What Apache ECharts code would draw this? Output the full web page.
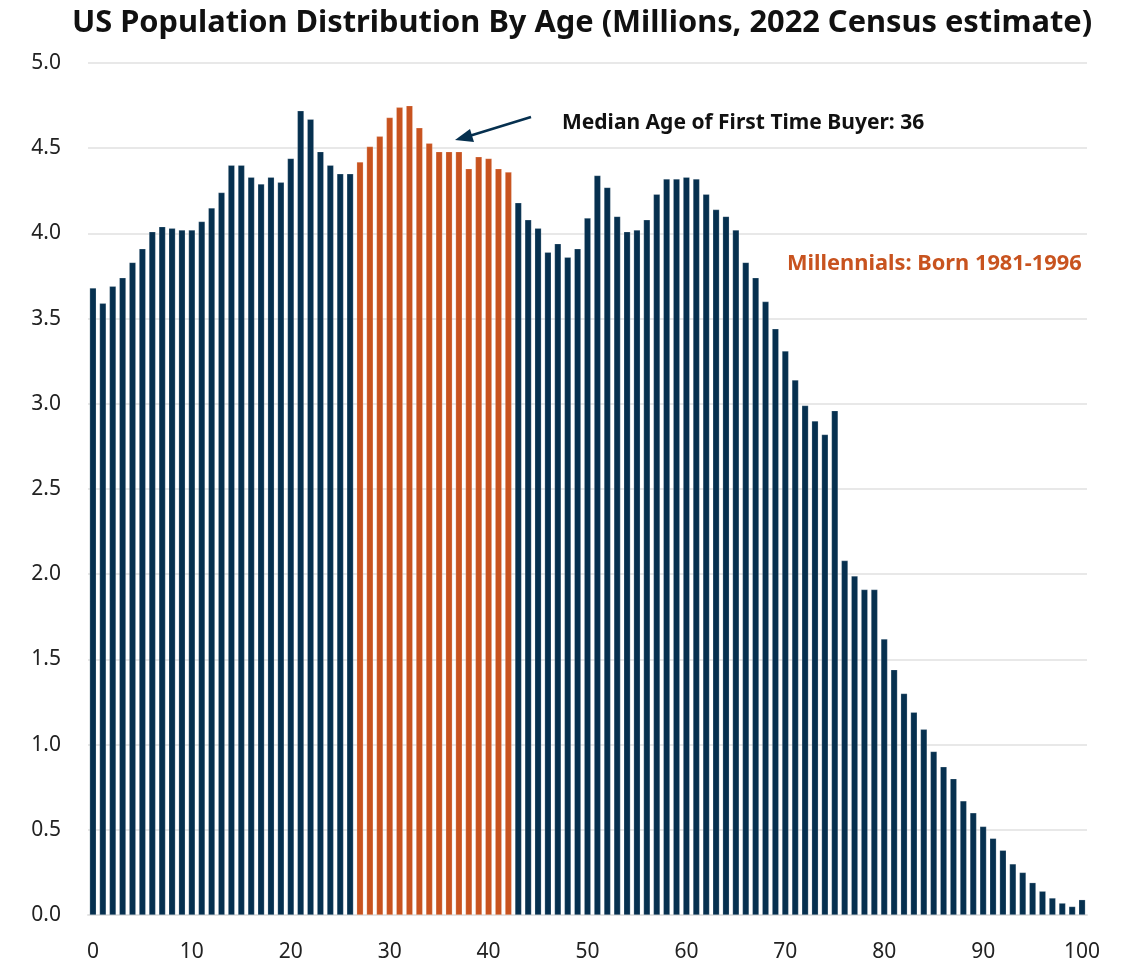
<!DOCTYPE html>
<html>
<head>
<meta charset="utf-8">
<script src="https://cdn.jsdelivr.net/npm/echarts@6/dist/echarts.min.js"></script>
<style>
  html, body { margin: 0; padding: 0; background: #ffffff; }
  #chart { width: 1122px; height: 963px; }
</style>
</head>
<body>
<div id="chart"></div>
<script>
// Single-year ages 0..100
const ages = Array.from({ length: 101 }, (_, i) => String(i));

// US resident population by single year of age, millions (2022 estimate)
const population = [
  3.68, 3.59, 3.69, 3.74, 3.83, 3.91, 4.01, 4.04, 4.03, 4.02,
  4.02, 4.07, 4.15, 4.24, 4.40, 4.40, 4.33, 4.29, 4.33, 4.30,
  4.44, 4.72, 4.67, 4.48, 4.40, 4.35, 4.35, 4.42, 4.51, 4.57,
  4.68, 4.74, 4.75, 4.62, 4.53, 4.48, 4.48, 4.48, 4.38, 4.45,
  4.44, 4.38, 4.36, 4.18, 4.08, 4.03, 3.89, 3.94, 3.86, 3.91,
  4.09, 4.34, 4.27, 4.10, 4.01, 4.02, 4.08, 4.23, 4.32, 4.32,
  4.33, 4.32, 4.23, 4.14, 4.10, 4.02, 3.83, 3.74, 3.60, 3.44,
  3.31, 3.14, 2.99, 2.90, 2.82, 2.96, 2.08, 1.99, 1.91, 1.91,
  1.62, 1.44, 1.30, 1.19, 1.09, 0.96, 0.87, 0.80, 0.67, 0.60,
  0.52, 0.45, 0.38, 0.30, 0.25, 0.19, 0.14, 0.10, 0.07, 0.05,
  0.09
];

// Ages highlighted as the millennial cohort
const millennialAges = [27, 42];

const titleText = 'US Population Distribution By Age (Millions, 2022 Census estimate)';
const buyerNote = 'Median Age of First Time Buyer: 36';
const cohortNote = 'Millennials: Born 1981-1996';

const NAVY = '#06304f';
const ORANGE = '#c8531f';
const FONT = '"Source Sans Pro", "Noto Sans", Lato, sans-serif';

const chart = echarts.init(document.getElementById('chart'), null, { renderer: 'canvas' });

chart.setOption({
  backgroundColor: '#ffffff',
  animation: false,
  textStyle: { fontFamily: FONT },
  title: {
    text: titleText,
    left: 577,
    top: 3,
    textAlign: 'center',
    textStyle: { fontFamily: FONT, fontSize: 30.8, fontWeight: 'bold', color: '#111111' }
  },
  grid: { left: 88, right: 35, top: 63, bottom: 48, containLabel: false },
  xAxis: {
    type: 'category',
    data: ages,
    axisLine: { show: true, lineStyle: { color: '#e3e3e3', width: 2 } },
    axisTick: { show: false },
    axisLabel: {
      interval: 9,
      showMaxLabel: true,
      margin: 27,
      fontSize: 21,
      color: '#222222',
      fontFamily: FONT,
      formatter: v => (Number(v) % 10 === 0 ? v : '')
    },
    splitLine: { show: false }
  },
  yAxis: {
    type: 'value',
    min: 0,
    max: 5,
    interval: 0.5,
    axisLine: { show: false },
    axisTick: { show: false },
    axisLabel: {
      margin: 27,
      fontSize: 21,
      color: '#222222',
      fontFamily: FONT,
      formatter: v => v.toFixed(1)
    },
    splitLine: { lineStyle: { color: '#e8e8e8', width: 2 } }
  },
  series: [{
    type: 'bar',
    data: population.map((v, i) => ({
      value: v,
      itemStyle: {
        color: (i >= millennialAges[0] && i <= millennialAges[1]) ? ORANGE : NAVY
      }
    })),
    barCategoryGap: '32%',
    itemStyle: { borderColor: 'rgba(255,255,255,0.35)', borderWidth: 0.6 }
  }],
  graphic: [
    {
      type: 'text',
      left: 562,
      top: 113,
      style: { text: buyerNote, fontFamily: FONT, fontSize: 21, fontWeight: 'bold', fill: '#111111' }
    },
    {
      type: 'text',
      left: 787,
      top: 253,
      style: { text: cohortNote, fontFamily: FONT, fontSize: 21.8, fontWeight: 'bold', fill: ORANGE }
    },
    {
      type: 'line',
      shape: { x1: 531, y1: 117, x2: 466, y2: 137 },
      style: { stroke: NAVY, lineWidth: 2.5 }
    },
    {
      type: 'polygon',
      shape: { points: [[455, 140], [470, 129], [474, 142]] },
      style: { fill: NAVY }
    }
  ]
});
</script>
</body>
</html>
